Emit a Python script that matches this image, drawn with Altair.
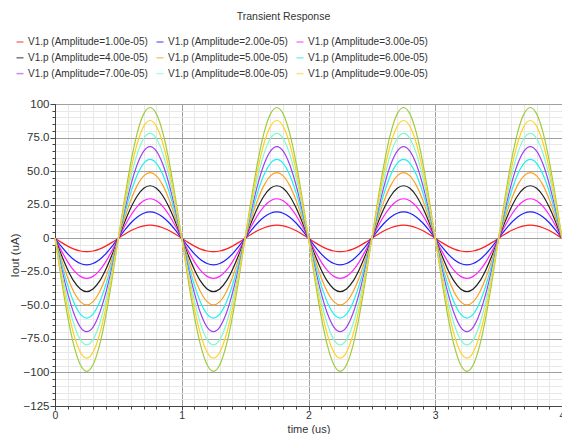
import altair as alt
import pandas as pd

# ---- data ----
phase = [0.00, 0.05, 0.10, 0.15, 0.20, 0.25, 0.30, 0.35, 0.40, 0.45,
         0.50, 0.55, 0.60, 0.65, 0.70, 0.75, 0.80, 0.85, 0.90, 0.95]
# normalized waveform over one period (starts at 0, goes negative first)
shape = [0.000, -0.309, -0.588, -0.809, -0.951, -1.000, -0.951, -0.809, -0.588, -0.309,
         0.000, 0.309, 0.588, 0.809, 0.951, 1.000, 0.951, 0.809, 0.588, 0.309]
periods = [0, 1, 2, 3]
end_time = 4.0

series = ["V1.p (Amplitude=1.00e-05)", "V1.p (Amplitude=2.00e-05)", "V1.p (Amplitude=3.00e-05)",
          "V1.p (Amplitude=4.00e-05)", "V1.p (Amplitude=5.00e-05)", "V1.p (Amplitude=6.00e-05)",
          "V1.p (Amplitude=7.00e-05)", "V1.p (Amplitude=8.00e-05)", "V1.p (Amplitude=9.00e-05)",
          "V1.p (Amplitude=1.00e-04)"]
pos_peaks = [9.7, 19.6, 29.4, 39.1, 48.9, 58.7, 68.3, 78.1, 87.7, 97.4]
neg_peaks = [10.0, 19.8, 29.9, 39.8, 49.7, 59.5, 69.6, 79.4, 89.3, 99.2]
colors = ["#ff2020", "#2020ff", "#ff20ff", "#202020", "#ffa020",
          "#20f0f0", "#a040f0", "#80f8d0", "#ffd020", "#a0cc40"]

x_major = [0, 1, 2, 3, 4]
x_minor = [round(i * 0.1, 1) for i in range(41)]
y_major = [-125, -100, -75, -50, -25, 0, 25, 50, 75, 100]
y_minor = list(range(-125, 101, 5))

rows = []
for name, pp, npk in zip(series, pos_peaks, neg_peaks):
    for p in periods:
        for ph, s in zip(phase, shape):
            v = s * (pp if s > 0 else npk)
            rows.append({"series": name, "t": p + ph, "v": v})
    rows.append({"series": name, "t": end_time, "v": 0.0})
df = pd.DataFrame(rows)
df_main = df[df["series"] != series[-1]]
df_last = df[df["series"] == series[-1]]

FONT = "Liberation Sans"
TXT = "#333333"
W, H = 507, 302

xs = alt.Scale(domain=[0, 4], nice=False, zero=False)
ys = alt.Scale(domain=[-125, 100], nice=False, zero=False)

minor = alt.Chart(df_last).mark_line(interpolate="monotone", strokeWidth=1.2, color=colors[-1]).encode(
    x=alt.X("t:Q", scale=xs, axis=alt.Axis(orient="bottom", values=x_minor, grid=True, gridColor="#e8e8e8",
                                           gridWidth=1, labels=False, title=None, domain=False,
                                           tickSize=3, tickColor="#444444")),
    y=alt.Y("v:Q", scale=ys, axis=alt.Axis(orient="left", values=y_minor, grid=True, gridColor="#e8e8e8",
                                           gridWidth=1, labels=False, title=None, domain=False,
                                           tickSize=3, tickColor="#444444")),
    detail="series:N",
)

main = alt.Chart(df_main).mark_line(interpolate="monotone", strokeWidth=1.2).encode(
    x=alt.X("t:Q", scale=xs, axis=alt.Axis(orient="bottom", values=x_major, grid=True, gridColor="#a0a0a0",
                                           title="time (us)", titleFont=FONT, titleFontSize=11,
                                           titleFontWeight="normal", titleColor=TXT,
                                           titleBaseline="bottom", titleX=W / 2, titleY=28,
                                           labelFont=FONT, labelFontSize=10.5, labelColor=TXT,
                                           labelPadding=0, tickSize=4, tickColor="#444444",
                                           domainColor="#444444", labelFlush=False)),
    y=alt.Y("v:Q", scale=ys, axis=alt.Axis(orient="left", values=y_major, grid=True, gridColor="#a0a0a0",
                                           title="Iout (uA)", titleFont=FONT, titleFontSize=11.5,
                                           titleFontWeight="normal", titleColor=TXT,
                                           titleBaseline="middle", titleX=-40, titleY=H / 2,
                                           labelFont=FONT, labelFontSize=11.5, labelColor=TXT,
                                           labelPadding=1, tickSize=5, tickColor="#444444",
                                           domainColor="#444444",
                                           labelExpr="datum.value == 0 ? '0' : (abs(datum.value) >= 100 ? format(datum.value, 'd') : format(datum.value, '.1f'))")),
    color=alt.Color("series:N", scale=alt.Scale(domain=series[:-1], range=colors[:-1]),
                    legend=alt.Legend(title=None, orient="none", legendX=-40, legendY=-67, columns=3,
                                      direction="horizontal", symbolType="stroke", symbolSize=49,
                                      symbolStrokeWidth=1.5, symbolOpacity=0.6, labelFont=FONT,
                                      labelFontSize=10, labelColor=TXT, labelOffset=3,
                                      columnPadding=5, rowPadding=5.8, padding=0)),
)

chart = alt.layer(minor, main).resolve_axis(x="independent", y="independent").properties(
    width=W, height=H,
    title=alt.TitleParams("Transient Response", font=FONT, fontSize=10.5, fontWeight="normal",
                          color=TXT, anchor="middle", dx=-25, dy=-11),
    autosize=alt.AutoSizeParams(type="none"),
    padding={"left": 47, "top": 96, "right": 0, "bottom": 28},
).configure_view(stroke="#444444", strokeWidth=1)

chart.save("out.html", embed_options={"renderer": "svg", "actions": False})
